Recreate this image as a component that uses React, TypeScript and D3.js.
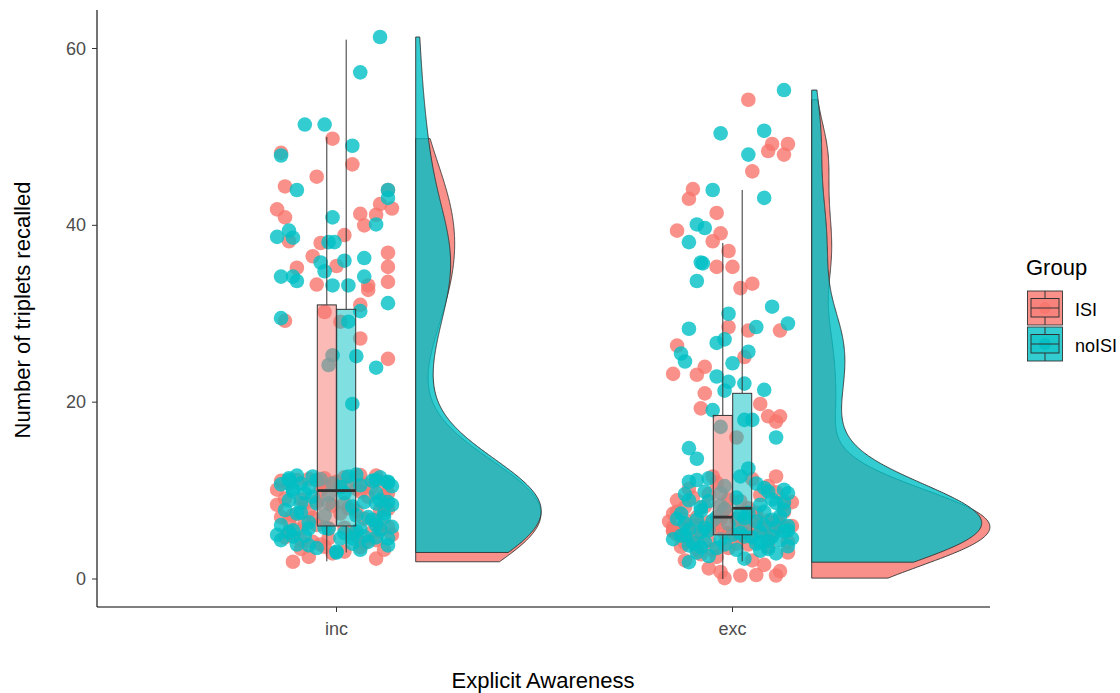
import React from 'react';
import * as d3 from 'd3';

// ---------- data ----------
const categories = ['inc', 'exc'];
const groups = ['ISI', 'noISI'];
const groupColors = ['#F8766D', '#00BFC4'];
const yTicks = [0, 20, 40, 60];

// [value, horizontal jitter in category units]
const incISI: [number, number][] = [
  [49.8, -0.01], [48.2, -0.14], [46.9, 0.04], [45.5, -0.05], [44.4, -0.13], [44.0, 0.13], [42.4, 0.11], [41.9, 0.14],
  [41.8, -0.15], [41.3, 0.06], [41.2, 0.10], [40.9, -0.13], [40.0, 0.07], [38.9, 0.02], [38.2, -0.12], [38.0, -0.04],
  [36.9, 0.13], [36.5, -0.06], [35.4, 0.0], [35.3, 0.13], [35.2, -0.10], [33.6, 0.13], [33.3, -0.05], [33.2, 0.08],
  [32.7, 0.08], [31.0, 0.06], [30.2, -0.03], [29.2, -0.13], [29.1, 0.01], [27.2, 0.06], [24.9, 0.13],
  [11.4, -0.03], [11.75, 0.06], [10.1, -0.15], [10.1, -0.04], [9.9, 0.06], [9.7, 0.13], [8.4, -0.15], [7.6, -0.07],
  [7.8, 0.11], [6.5, -0.12], [6.1, -0.05], [5.3, 0.09], [4.6, -0.02], [4.4, 0.10], [3.65, -0.03], [3.1, 0.02],
  [1.95, -0.11], [2.5, -0.07], [2.3, 0.10], [8.55, 0.02], [7.4, 0.01], [9.0, -0.09], [10.6, 0.03], [5.2, -0.12],
  [6.8, 0.07], [11.0, 0.0], [4.2, -0.06], [8.2, 0.12], [11.2, -0.10], [5.8, 0.02], [7.0, -0.14], [9.3, 0.08],
  [8.8, -0.05], [4.9, 0.05], [3.4, -0.09], [10.4, 0.01], [5.9, 0.13], [6.3, -0.08],
  [5.6, -0.10], [4.1, 0.07], [3.3, 0.12], [5.1, 0.04], [4.7, -0.13], [2.9, -0.01], [5.5, 0.11], [3.9, -0.04],
  [4.4, -0.09], [5.0, 0.14], [3.6, 0.06], [5.7, -0.02], [6.6, 0.10], [7.2, -0.11], [8.0, 0.03], [8.6, -0.08],
  [9.4, 0.12], [7.7, 0.05], [6.9, -0.06], [9.1, -0.13], [7.9, 0.13], [8.3, -0.01], [10.3, 0.09], [10.8, -0.12],
  [11.5, 0.02], [10.9, 0.12], [11.3, -0.07], [10.5, -0.03], [11.7, 0.10], [10.2, 0.05], [11.1, -0.14], [10.7, 0.07],
];
const incNoISI: [number, number][] = [
  [61.3, 0.11], [57.3, 0.06], [51.4, -0.08], [51.4, -0.03], [49.0, 0.04], [47.9, -0.14], [44.0, -0.10], [44.0, 0.13],
  [43.1, 0.13], [40.9, -0.01], [40.1, 0.10], [39.4, -0.12], [38.7, -0.15], [38.6, -0.11], [38.1, -0.02], [38.1, -0.005],
  [36.3, 0.07], [36.0, 0.02], [35.8, -0.04], [34.8, -0.03], [34.2, -0.14], [34.2, -0.11], [33.7, -0.10], [34.2, 0.07],
  [33.2, -0.01], [33.2, 0.03], [31.2, 0.13], [30.3, 0.06], [29.5, -0.14], [29.1, 0.03], [25.3, -0.01], [24.2, -0.02],
  [25.2, 0.05], [23.9, 0.10], [19.8, 0.04],
  [11.4, -0.12], [10.8, -0.09], [11.2, -0.05], [11.6, 0.03], [11.2, 0.10], [11.0, 0.13], [9.9, -0.11], [9.7, -0.08],
  [9.7, 0.02], [9.7, 0.10], [8.9, -0.12], [8.55, -0.09], [8.55, -0.05], [8.55, -0.02], [8.7, 0.07], [8.55, 0.10],
  [8.7, 0.13], [7.4, -0.10], [7.2, -0.03], [7.2, 0.05], [7.0, 0.08], [7.4, 0.12], [6.1, -0.14], [5.5, -0.11],
  [5.7, -0.07], [5.7, -0.02], [5.7, 0.06], [6.1, 0.10], [5.9, 0.14], [5.0, -0.15], [4.8, -0.11], [4.6, 0.01],
  [4.6, 0.04], [4.8, 0.07], [4.6, 0.13], [3.8, -0.07], [3.1, 0.0], [4.0, 0.04], [3.0, 0.0],
  [5.3, -0.12], [4.2, 0.08], [3.5, -0.05], [5.6, 0.11], [4.9, -0.08], [3.8, 0.13], [5.2, 0.02], [4.4, -0.14],
  [3.3, 0.06], [5.8, -0.03], [4.7, 0.10], [3.9, -0.10], [5.4, 0.05], [6.4, -0.07], [7.0, 0.12], [7.8, -0.13],
  [8.2, 0.04], [9.3, -0.06], [6.7, 0.09], [8.9, 0.11], [9.5, -0.02], [7.5, -0.09], [8.4, 0.14], [10.2, -0.11],
  [10.6, 0.06], [11.3, -0.04], [10.9, 0.13], [11.7, -0.10], [10.4, 0.01], [11.1, 0.09], [10.7, -0.14], [11.5, 0.11],
  [10.3, -0.07], [11.8, 0.05], [10.8, -0.01], [11.2, -0.12], [10.5, 0.14], [11.6, -0.06],
];
const excISI: [number, number][] = [
  [54.2, 0.04], [49.2, 0.10], [48.4, 0.09], [49.2, 0.14], [48.0, 0.13], [46.1, 0.05], [44.1, -0.10], [43.0, -0.11],
  [41.4, -0.04], [39.4, -0.14], [39.1, -0.03], [38.2, -0.05], [37.1, -0.01], [35.3, -0.04], [35.3, 0.0], [32.9, 0.02],
  [33.4, 0.05], [28.5, -0.01], [28.1, 0.04], [28.1, 0.12], [26.4, -0.14], [23.2, -0.15], [24.0, -0.07], [23.1, -0.09],
  [25.1, 0.03], [21.0, -0.07], [19.8, 0.07], [19.3, -0.08], [18.4, 0.09], [18.4, 0.12], [17.8, 0.11], [16.0, 0.01],
  [11.6, -0.05], [11.6, 0.11], [8.9, -0.14], [8.7, 0.15], [7.4, -0.15], [6.5, -0.16], [5.5, -0.15], [5.0, -0.14],
  [5.9, -0.15], [7.6, -0.14], [0.1, -0.02], [0.4, 0.02], [0.45, 0.06], [0.4, 0.11], [0.9, 0.12], [0.8, -0.03],
  [1.2, -0.06], [2.1, -0.12], [2.1, 0.05], [2.5, -0.04], [3.3, -0.09], [3.3, -0.05], [3.65, -0.13], [3.65, 0.09],
  [4.2, 0.14], [10.2, -0.11], [9.5, 0.07], [9.0, -0.01], [8.2, -0.07], [8.0, 0.04], [7.6, 0.13], [7.0, -0.09],
  [6.8, 0.01], [6.6, 0.09], [6.3, -0.04], [6.0, -0.11], [6.0, 0.03], [5.8, 0.12], [5.6, -0.07], [5.4, 0.07],
  [5.2, -0.02], [4.9, -0.09], [4.7, 0.02], [4.5, 0.09], [4.3, -0.06], [4.1, -0.12], [3.9, 0.04], [3.5, -0.01],
  [3.0, 0.14], [2.8, -0.08], [6.2, 0.07], [7.2, -0.03], [5.0, 0.04], [4.0, 0.01], [9.8, 0.11],
  [1.6, 0.08], [4.6, -0.10], [5.1, 0.10], [5.3, -0.13], [5.5, 0.05], [5.7, -0.05], [5.9, 0.13], [6.1, -0.09],
  [6.3, 0.02], [6.5, 0.11], [6.7, -0.12], [6.9, 0.06], [5.2, -0.01], [5.8, 0.08], [6.4, -0.06], [6.0, 0.15],
  [5.4, -0.15], [6.8, -0.03], [6.2, 0.12], [7.5, 0.06], [8.1, -0.12], [8.8, 0.02], [9.6, -0.06], [10.5, 0.09],
  [7.8, -0.02], [8.5, 0.13], [9.2, -0.10], [10.9, -0.04], [11.3, 0.05],
];
const excNoISI: [number, number][] = [
  [55.3, 0.13], [50.4, -0.03], [50.7, 0.08], [48.0, 0.04], [44.0, -0.05], [43.1, 0.08], [40.1, -0.09], [39.7, -0.07],
  [38.1, -0.11], [35.8, -0.08], [35.7, -0.075], [33.7, -0.09], [30.0, -0.01], [30.8, 0.10], [28.3, -0.11], [28.5, 0.06],
  [28.9, 0.14], [27.1, -0.02], [26.7, -0.04], [25.5, -0.13], [24.6, -0.12], [22.9, -0.04], [24.4, 0.0], [25.7, 0.04],
  [22.3, -0.01], [22.1, 0.03], [21.3, -0.02], [21.4, 0.08], [19.1, -0.05], [18.0, 0.03], [18.0, 0.05], [17.2, -0.03],
  [16.0, 0.11], [14.8, -0.11],
  [11.0, -0.11], [11.2, -0.09], [11.6, 0.02], [9.9, -0.07], [9.7, -0.03], [8.9, -0.11], [9.9, 0.09], [10.1, 0.13],
  [9.7, 0.14], [7.4, -0.13], [6.7, -0.09], [8.4, 0.07], [7.8, 0.13], [6.9, 0.03], [6.7, 0.10], [5.9, 0.11],
  [5.0, -0.12], [5.3, -0.08], [5.5, -0.06], [5.3, 0.07], [5.5, 0.14], [4.6, 0.15], [3.8, -0.11], [4.2, -0.07],
  [5.0, 0.0], [3.3, 0.01], [4.0, 0.06], [2.9, 0.11], [1.9, -0.11], [10.5, -0.02], [10.8, 0.06], [9.2, 0.01],
  [8.8, -0.06], [8.6, 0.11], [8.1, -0.08], [7.9, -0.02], [7.6, 0.08], [7.3, 0.02], [7.0, -0.04], [6.5, 0.06],
  [6.3, -0.12], [6.2, -0.01], [6.0, 0.14], [5.8, -0.07], [4.8, 0.03], [4.5, -0.03], [4.3, 0.09], [3.6, -0.08],
  [3.2, 0.07],
  [4.9, -0.13], [4.4, 0.12], [3.9, -0.02], [3.4, 0.09], [2.6, -0.06], [4.7, 0.05], [4.1, -0.10], [3.7, 0.14],
  [2.3, 0.03], [4.5, -0.15], [3.0, -0.09], [4.8, 0.10], [3.5, -0.04], [4.2, 0.07], [5.2, 0.02], [5.6, -0.11],
  [6.1, 0.08], [6.6, -0.05], [7.1, 0.12], [7.7, -0.08], [5.4, 0.13], [6.8, -0.14], [7.5, 0.04], [8.3, -0.03],
  [9.0, 0.10], [9.6, -0.12], [10.3, 0.08], [11.4, -0.06], [12.5, 0.04], [13.6, -0.09], [8.7, 0.13],
];

// box statistics per [inc-ISI, inc-noISI, exc-ISI, exc-noISI]
const boxLow = [2, 3, 0, 2];
const boxQ1 = [6, 6, 5, 5];
const boxMedian = [10, 10, 7, 8];
const boxQ3 = [31, 30.5, 18.5, 21];
const boxHigh = [50, 61, 38, 44];

const seriesData = [
  { cat: 0, grp: 0, pts: incISI },
  { cat: 0, grp: 1, pts: incNoISI },
  { cat: 1, grp: 0, pts: excISI },
  { cat: 1, grp: 1, pts: excNoISI },
];

// ---------- layout ----------
const W = 1120, H = 693;
const left = 97, right = 990, axisY = 607, top = 10;
const x = d3.scaleLinear().domain([1, 2]).range([336.5, 732.5]);
const y = d3.scaleLinear().domain([0, 60]).range([579, 48.5]);
const dodge = 0.0245, boxW = 0.048, violinOffset = 0.2, violinMax = 0.45;
const bwAdjust = 1;

function kde(vals: number[]) {
  const s = vals.slice().sort(d3.ascending);
  const n = s.length;
  const sd = d3.deviation(s) as number;
  const iqr = (d3.quantile(s, 0.75) as number) - (d3.quantile(s, 0.25) as number);
  const bw = bwAdjust * 0.9 * Math.min(sd, iqr / 1.34) * Math.pow(n, -0.2);
  const lo = s[0], hi = s[n - 1];
  return d3.range(512).map((i) => {
    const v = lo + ((hi - lo) * i) / 511;
    let sum = 0;
    for (const d of s) {
      const z = (v - d) / bw;
      sum += Math.exp(-0.5 * z * z);
    }
    return [v, sum / (n * bw * Math.sqrt(2 * Math.PI))] as [number, number];
  });
}

const fontFamily = '"Liberation Sans", Arial, sans-serif';

export default function App() {
  const dens = seriesData.map((s) => kde(s.pts.map((p) => p[0])));
  const maxD = d3.max(dens, (d) => d3.max(d, (p) => p[1])) as number;
  const wScale = d3.scaleLinear().domain([0, maxD]).range([0, violinMax]);

  const violinPath = (i: number) => {
    const c = seriesData[i].cat + 1 + violinOffset;
    const d = dens[i];
    const pts: [number, number][] = [
      [x(c), y(d[0][0])],
      ...d.map((p) => [x(c + wScale(p[1])), y(p[0])] as [number, number]),
      [x(c), y(d[d.length - 1][0])],
    ];
    return d3.line()(pts) + 'Z';
  };

  return (
    <svg width={W} height={H} style={{ position: 'absolute', left: 0, top: 0, background: '#fff' }} fontFamily={fontFamily}>
      <rect x={0} y={0} width={W} height={H} fill="#fff" />
      {/* violins */}
      {seriesData.map((s, i) => (
        <path key={'v' + i} d={violinPath(i)} fill={groupColors[s.grp]} fillOpacity={0.8} stroke="#333" strokeWidth={0.9} />
      ))}
      {/* points */}
      {[0, 1].map((g) =>
        seriesData.filter((s) => s.grp === g).map((s) =>
          s.pts.map((p, j) => (
            <circle key={`p${s.cat}${g}${j}`} cx={x(s.cat + 1 + p[1])} cy={y(p[0])} r={7.3} fill={groupColors[g]} fillOpacity={0.8} />
          ))
        )
      )}
      {/* boxes */}
      {seriesData.map((s, i) => {
        const cx = s.cat + 1 + (s.grp === 0 ? -dodge : dodge);
        const x0 = x(cx - boxW / 2), x1 = x(cx + boxW / 2);
        return (
          <g key={'b' + i}>
            <line x1={x(cx)} x2={x(cx)} y1={y(boxQ3[i])} y2={y(boxHigh[i])} stroke="#333" strokeWidth={1} />
            <line x1={x(cx)} x2={x(cx)} y1={y(boxQ1[i])} y2={y(boxLow[i])} stroke="#333" strokeWidth={1} />
            <rect x={x0} y={y(boxQ3[i])} width={x1 - x0} height={y(boxQ1[i]) - y(boxQ3[i])} fill={groupColors[s.grp]} fillOpacity={0.5} stroke="#333" strokeWidth={1} />
            <line x1={x0} x2={x1} y1={y(boxMedian[i])} y2={y(boxMedian[i])} stroke="#333" strokeWidth={2.8} />
          </g>
        );
      })}
      {/* axes */}
      <line x1={left} x2={left} y1={top} y2={axisY} stroke="#000" strokeWidth={1.1} />
      <line x1={left} x2={right} y1={axisY} y2={axisY} stroke="#000" strokeWidth={1.1} />
      {yTicks.map((t) => (
        <g key={'yt' + t}>
          <line x1={left - 5} x2={left} y1={y(t)} y2={y(t)} stroke="#333" strokeWidth={1} />
          <text x={left - 11} y={y(t)} textAnchor="end" dominantBaseline="central" fontSize={18} fill="#4D4D4D">{t}</text>
        </g>
      ))}
      {categories.map((c, i) => (
        <g key={'xt' + c}>
          <line x1={x(i + 1)} x2={x(i + 1)} y1={axisY} y2={axisY + 5} stroke="#333" strokeWidth={1} />
          <text x={x(i + 1)} y={axisY + 22} textAnchor="middle" dominantBaseline="central" fontSize={18} fill="#4D4D4D">{c}</text>
        </g>
      ))}
      <text x={543} y={680} textAnchor="middle" dominantBaseline="central" fontSize={22} fill="#000">Explicit Awareness</text>
      <text transform="translate(22,310) rotate(-90)" textAnchor="middle" dominantBaseline="central" fontSize={22} fill="#000">Number of triplets recalled</text>
      {/* legend */}
      <text x={1026} y={267} dominantBaseline="central" fontSize={22} fill="#000">Group</text>
      {groups.map((g, i) => {
        const ky = 291 + i * 36;
        return (
          <g key={'lg' + g}>
            <rect x={1027.5} y={ky} width={35} height={34} fill={groupColors[i]} fillOpacity={0.8} stroke="#333" strokeWidth={0.9} />
            <circle cx={1045} cy={ky + 17} r={6} fill={groupColors[i]} fillOpacity={0.8} />
            <line x1={1045} x2={1045} y1={ky} y2={ky + 7.5} stroke="#333" strokeWidth={1} />
            <line x1={1045} x2={1045} y1={ky + 26} y2={ky + 34} stroke="#333" strokeWidth={1} />
            <rect x={1031} y={ky + 7.5} width={28} height={18.5} fill={groupColors[i]} fillOpacity={0.5} stroke="#333" strokeWidth={1} />
            <line x1={1031} x2={1059} y1={ky + 17} y2={ky + 17} stroke="#333" strokeWidth={1} />
            <text x={1075} y={ky + 19} dominantBaseline="central" fontSize={18} fill="#000">{g}</text>
          </g>
        );
      })}
    </svg>
  );
}
